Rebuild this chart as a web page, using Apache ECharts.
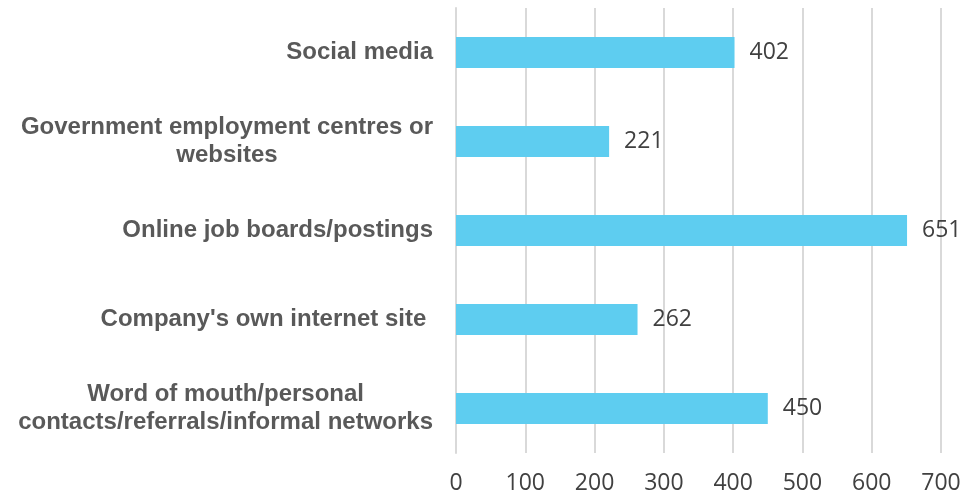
<!DOCTYPE html>
<html>
<head>
<meta charset="utf-8">
<script src="https://cdn.jsdelivr.net/npm/echarts@6/dist/echarts.min.js"></script>
<style>
  html, body { margin: 0; padding: 0; background: #fff; }
  #main { width: 966px; height: 495px; }
</style>
</head>
<body>
<div id="main"></div>
<script>
// categories top to bottom
const categories = [
  "Social media",
  "Government employment centres or\nwebsites",
  "Online job boards/postings",
  "Company's own internet site ",
  "Word of mouth/personal\ncontacts/referrals/informal networks"
];
const values = [402, 221, 651, 262, 450];
const xTicks = [0, 100, 200, 300, 400, 500, 600, 700];

const chart = echarts.init(document.getElementById("main"));

// each line is a rich token centred inside the label block
const wrapLabel = (txt) => txt.split("\n").map(l => "{c|" + l + "}").join("\n");

const option = {
  animation: false,
  grid: { left: 456, right: 25, top: 8, bottom: 42, containLabel: false },
  xAxis: {
    type: "value",
    min: xTicks[0],
    max: xTicks[xTicks.length - 1],
    interval: 100,
    axisLine: { show: false },
    axisTick: { show: false },
    splitLine: { lineStyle: { color: "#d9d9d9", width: 2 } },
    axisLabel: {
      margin: 19,
      fontFamily: "Open Sans",
      fontSize: 23,
      color: "#404040"
    }
  },
  yAxis: {
    type: "category",
    inverse: true,
    data: categories,
    axisTick: { show: false },
    axisLine: { lineStyle: { color: "#d9d9d9", width: 2 } },
    axisLabel: {
      margin: 23,
      formatter: wrapLabel,
      rich: {
        c: {
          align: "center",
          fontFamily: "Liberation Sans",
          fontWeight: "bold",
          fontSize: 24,
          lineHeight: 28,
          color: "#595959"
        }
      }
    }
  },
  series: [{
    type: "bar",
    data: values,
    barWidth: "35%",
    itemStyle: { color: "#5ecdf0" },
    label: {
      show: true,
      position: "right",
      distance: 15,
      fontFamily: "Open Sans",
      fontSize: 23,
      color: "#404040"
    }
  }]
};

chart.setOption(option);
</script>
</body>
</html>
